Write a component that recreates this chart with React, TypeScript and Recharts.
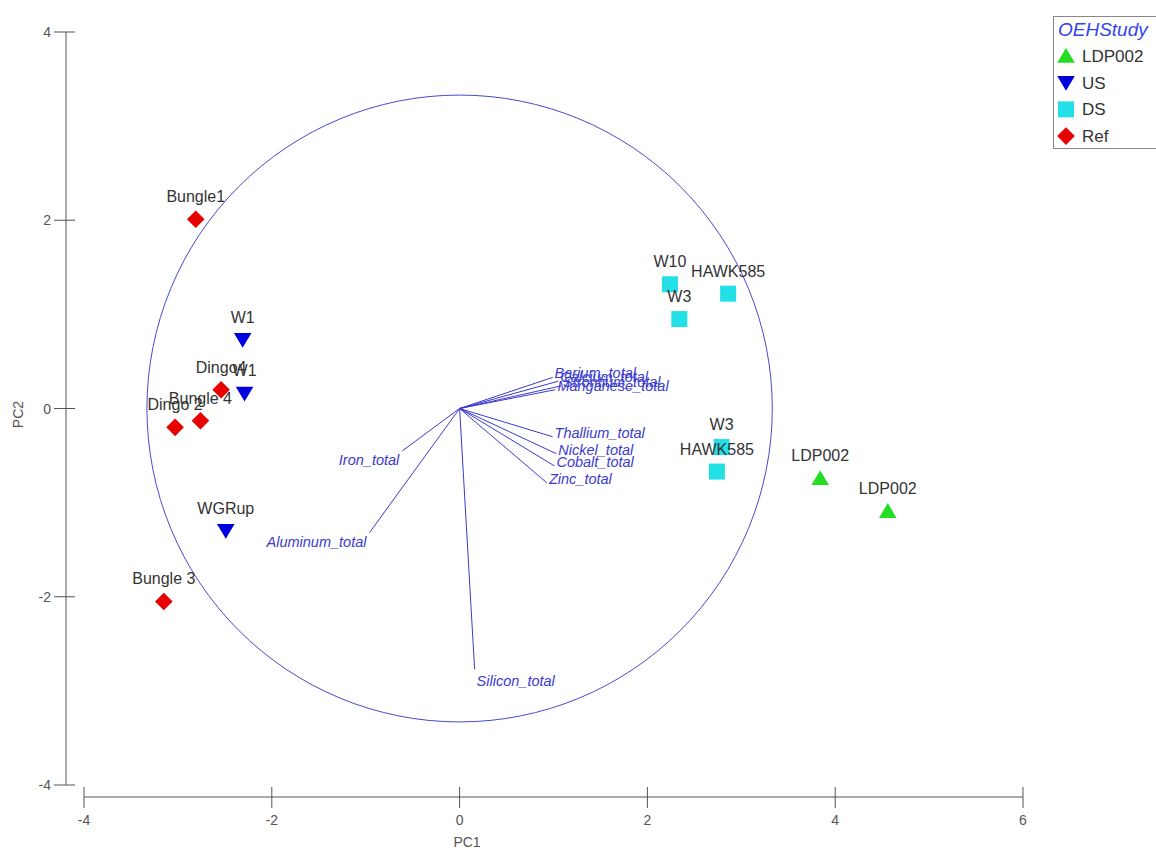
import React from "react";
import {
  ScatterChart,
  Scatter,
  XAxis,
  YAxis,
  ReferenceArea,
  ReferenceLine,
  Label,
} from "recharts";

const FONT = '"Liberation Sans", Arial, sans-serif';

// axis ticks
const pc1Ticks = [-4, -2, 0, 2, 4, 6];
const pc2Ticks = [-4, -2, 0, 2, 4];

// sample scores (PC1, PC2) per study group
const ldp002 = [
  { name: "LDP002", x: 3.84, y: -0.74 },
  { name: "LDP002", x: 4.56, y: -1.09 },
];
const us = [
  { name: "W1", x: -2.31, y: 0.73 },
  { name: "W1", x: -2.29, y: 0.16 },
  { name: "WGRup", x: -2.49, y: -1.3 },
];
const ds = [
  { name: "W10", x: 2.24, y: 1.32 },
  { name: "HAWK585", x: 2.86, y: 1.22 },
  { name: "W3", x: 2.34, y: 0.95 },
  { name: "W3", x: 2.79, y: -0.41 },
  { name: "HAWK585", x: 2.74, y: -0.67 },
];
const ref = [
  { name: "Bungle1", x: -2.81, y: 2.01 },
  { name: "Dingo4", x: -2.54, y: 0.2 },
  { name: "Bungle 4", x: -2.76, y: -0.13 },
  { name: "Dingo 2", x: -3.03, y: -0.2 },
  { name: "Bungle 3", x: -3.15, y: -2.05 },
];

// variable loadings (vector ends)
const loadings = [
  { name: "Barium_total", x: 0.99, y: 0.33 },
  { name: "Calcium_total", x: 1.05, y: 0.29 },
  { name: "Strontium_total", x: 1.08, y: 0.24 },
  { name: "Manganese_total", x: 1.02, y: 0.2 },
  { name: "Thallium_total", x: 0.99, y: -0.3 },
  { name: "Nickel_total", x: 1.03, y: -0.48 },
  { name: "Cobalt_total", x: 1.01, y: -0.61 },
  { name: "Zinc_total", x: 0.93, y: -0.79 },
  { name: "Iron_total", x: -0.61, y: -0.45 },
  { name: "Aluminum_total", x: -0.96, y: -1.32 },
  { name: "Silicon_total", x: 0.16, y: -2.77 },
];

const circleRadius = 3.33;

const groups = [
  { name: "LDP002", data: ldp002, kind: "up", color: "#22dd22" },
  { name: "US", data: us, kind: "down", color: "#0000dd" },
  { name: "DS", data: ds, kind: "square", color: "#22e0e6" },
  { name: "Ref", data: ref, kind: "diamond", color: "#e60000" },
];

const AXIS = "#555";
const VEC = "#3b3bd0";

function markerShape(kind: string, cx: number, cy: number, s: number, fill: string) {
  if (kind === "up")
    return <polygon points={`${cx},${cy - s} ${cx + s * 1.1},${cy + s * 0.85} ${cx - s * 1.1},${cy + s * 0.85}`} fill={fill} />;
  if (kind === "down")
    return <polygon points={`${cx - s * 1.1},${cy - s * 0.85} ${cx + s * 1.1},${cy - s * 0.85} ${cx},${cy + s}`} fill={fill} />;
  if (kind === "square")
    return <rect x={cx - s} y={cy - s} width={s * 2} height={s * 2} fill={fill} />;
  return <polygon points={`${cx},${cy - s * 1.1} ${cx + s * 1.1},${cy} ${cx},${cy + s * 1.1} ${cx - s * 1.1},${cy}`} fill={fill} />;
}

const PointShape = (props: any) => {
  const { cx, cy, payload, kind, fill } = props;
  return (
    <g>
      {markerShape(kind, cx, cy, 8, fill)}
      <text x={cx} y={cy - 17} textAnchor="middle" fill="#333" fontSize={16} fontFamily={FONT}>
        {payload.name}
      </text>
    </g>
  );
};

const LoadingLabel = (props: any) => {
  const { cx, cy, payload } = props;
  const below = Math.abs(payload.y) > 2 * Math.abs(payload.x);
  let x = cx + 2;
  let y = cy + 1;
  let anchor = "start";
  if (below) {
    y = cy + 17;
  } else if (payload.x < 0) {
    x = cx - 3;
    y = cy + 14;
    anchor = "end";
  }
  return (
    <text x={x} y={y} textAnchor={anchor} fill={VEC} fontSize={14.5} fontStyle="italic" fontFamily={FONT}>
      {payload.name}
    </text>
  );
};

const XTick = (props: any) => {
  const { x, y, payload } = props;
  return (
    <g>
      <line x1={x} x2={x} y1={y - 10} y2={y + 11} stroke={AXIS} />
      <text x={x} y={y + 28} textAnchor="middle" fill={AXIS} fontSize={14} fontFamily={FONT}>
        {payload.value}
      </text>
    </g>
  );
};

const YTick = (props: any) => {
  const { x, y, payload } = props;
  return (
    <g>
      <line x1={x - 12} x2={x + 9} y1={y} y2={y} stroke={AXIS} />
      <text x={x - 15} y={y + 5} textAnchor="end" fill={AXIS} fontSize={14} fontFamily={FONT}>
        {payload.value}
      </text>
    </g>
  );
};

const CorrelationCircle = (props: any) => {
  const { x, y, width, height } = props;
  return (
    <ellipse
      cx={x + width / 2}
      cy={y + height / 2}
      rx={width / 2}
      ry={height / 2}
      fill="none"
      stroke="#4a4acc"
      strokeWidth={1}
    />
  );
};

function StudyLegend() {
  return (
    <div
      style={{
        position: "absolute",
        left: 1053,
        top: 16,
        width: 150,
        height: 133,
        border: "1px solid #888",
        background: "#fff",
        boxSizing: "border-box",
      }}
    >
      <svg width={150} height={133} style={{ display: "block" }}>
        <text x={4} y={19} fill="#3344ee" fontSize={19} fontStyle="italic" fontFamily={FONT}>
          OEHStudy
        </text>
        {groups.map((g, i) => {
          const cy = 39 + i * 26.7;
          return (
            <g key={g.name}>
              {markerShape(g.kind, 12, cy, 8, g.color)}
              <text x={28} y={cy + 6} fill="#333" fontSize={17} fontFamily={FONT}>
                {g.name}
              </text>
            </g>
          );
        })}
      </svg>
    </div>
  );
}

export default function App() {
  return (
    <div
      style={{
        position: "absolute",
        left: 0,
        top: 0,
        width: 1156,
        height: 851,
        overflow: "hidden",
        background: "#fff",
      }}
    >
      <ScatterChart width={1156} height={851} margin={{ top: 32, right: 133, bottom: 0, left: 0 }}>
        <XAxis
          type="number"
          dataKey="x"
          domain={[-4, 6]}
          ticks={pc1Ticks}
          allowDataOverflow
          height={54}
          padding={{ left: 18, right: 0 }}
          axisLine={{ stroke: AXIS, strokeDasharray: "0 18 939 100" }}
          tickLine={false}
          tickSize={0}
          tickMargin={0}
          tick={<XTick />}
        >
          <Label
            content={(p: any) => (
              <text x={p.viewBox.x + 401} y={p.viewBox.y + 50} textAnchor="middle" fill={AXIS} fontSize={14} fontFamily={FONT}>
                PC1
              </text>
            )}
          />
        </XAxis>
        <YAxis
          type="number"
          dataKey="y"
          domain={[-4, 4]}
          ticks={pc2Ticks}
          allowDataOverflow
          width={66}
          padding={{ top: 0, bottom: 12 }}
          axisLine={{ stroke: AXIS, strokeDasharray: "753 100" }}
          tickLine={false}
          tickSize={0}
          tickMargin={0}
          tick={<YTick />}
        >
          <Label
            content={(p: any) => {
              const cx = 18;
              const cy = p.viewBox.y + p.viewBox.height / 2;
              return (
                <text
                  x={cx}
                  y={cy}
                  transform={`rotate(-90 ${cx} ${cy})`}
                  textAnchor="middle"
                  dominantBaseline="central"
                  fill={AXIS}
                  fontSize={14}
                  fontFamily={FONT}
                >
                  PC2
                </text>
              );
            }}
          />
        </YAxis>
        <ReferenceArea
          x1={-circleRadius}
          x2={circleRadius}
          y1={-circleRadius}
          y2={circleRadius}
          shape={(p: any) => <CorrelationCircle {...p} />}
        />
        {loadings.map((l) => (
          <ReferenceLine
            key={l.name}
            segment={[
              { x: 0, y: 0 },
              { x: l.x, y: l.y },
            ]}
            stroke={VEC}
            strokeWidth={1}
          />
        ))}
        <Scatter
          name="loadings"
          data={loadings}
          isAnimationActive={false}
          shape={(p: any) => <LoadingLabel {...p} />}
        />
        {groups.map((g) => (
          <Scatter
            key={g.name}
            name={g.name}
            data={g.data}
            fill={g.color}
            isAnimationActive={false}
            shape={(p: any) => <PointShape {...p} kind={g.kind} fill={g.color} />}
          />
        ))}
      </ScatterChart>
      <StudyLegend />
    </div>
  );
}
